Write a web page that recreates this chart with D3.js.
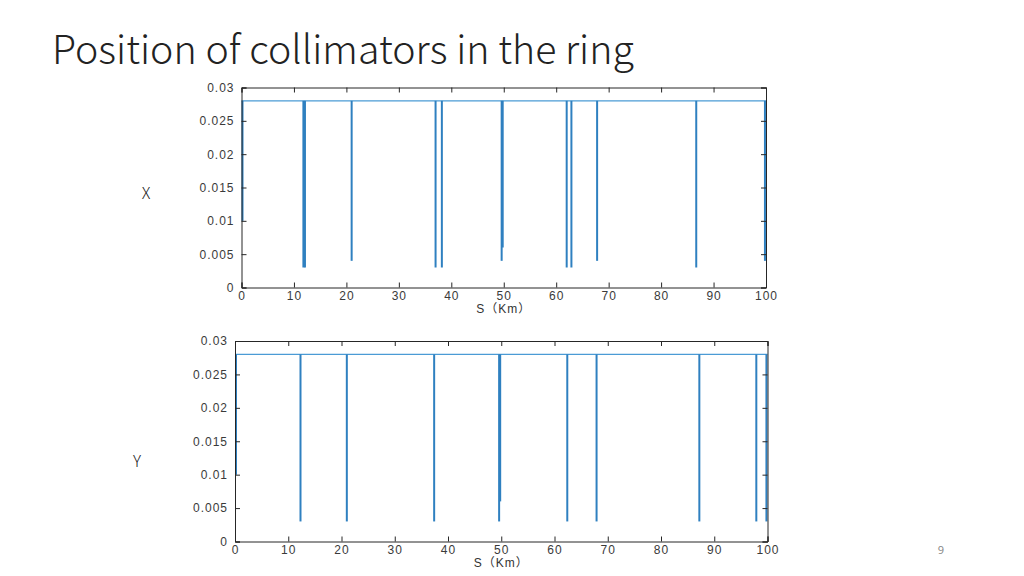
<!DOCTYPE html>
<html>
<head>
<meta charset="utf-8">
<script src="https://cdn.jsdelivr.net/npm/d3@7"></script>
<style>
  body { margin: 0; background: #fff; }
  svg { display: block; }
  .tick text { font-family: "Liberation Sans", Arial, sans-serif; font-size: 12px; letter-spacing: 1px; fill: #3a3a3a; }
</style>
</head>
<body>
<div id="chart"></div>
<script>
// nominal aperture (m) and collimator positions / half gaps
const nominal = 0.028;

const xColS   = [0, 11.8, 12.1, 21.0, 37.0, 38.2, 49.6, 49.8, 62.0, 62.9, 67.8, 86.7, 99.8];
const xColGap = [0.010, 0.003, 0.003, 0.004, 0.003, 0.003, 0.004, 0.006, 0.003, 0.003, 0.004, 0.003, 0.004];

const yColS   = [0, 12.3, 21.0, 37.4, 49.6, 49.8, 62.4, 67.9, 87.2, 97.9, 99.8];
const yColGap = [0.010, 0.003, 0.003, 0.003, 0.003, 0.006, 0.003, 0.003, 0.003, 0.003, 0.003];

const sTicks = [0, 10, 20, 30, 40, 50, 60, 70, 80, 90, 100];
const aTicks = [0, 0.005, 0.01, 0.015, 0.02, 0.025, 0.03];

const W = 1024, H = 576;
const svg = d3.select("#chart").append("svg").attr("width", W).attr("height", H);

// title
const title = svg.append("text")
  .attr("x", 52).attr("y", 64)
  .style("font-family", "'Noto Sans CJK SC', 'Noto Sans', sans-serif")
  .style("font-weight", 300)
  .style("font-size", "40px")
  .style("fill", "#222")
  .text("Position of collimators in the ring");
// fit title width to the slide
const tw = title.node().getComputedTextLength();
title.style("font-size", (40 * 582 / tw) + "px");

// page number
svg.append("text").attr("x", 941).attr("y", 554).attr("text-anchor", "middle")
  .style("font-family", "'Noto Sans', sans-serif").style("font-size", "11px").style("fill", "#8a8a8a")
  .text("9");

function panel(box, sArr, gapArr, label, labelPos) {
  const x = d3.scaleLinear().domain([0, 100]).range([box.left, box.right]);
  const y = d3.scaleLinear().domain([0, 0.03]).range([box.bottom, box.top]);

  const g = svg.append("g");

  // nominal aperture line
  g.append("line")
    .attr("x1", x(0)).attr("x2", x(100))
    .attr("y1", y(nominal)).attr("y2", y(nominal))
    .attr("stroke", "#4b9bd5").attr("stroke-width", 1.4);

  // collimators
  g.selectAll(".col")
    .data(d3.zip(sArr, gapArr))
    .join("line")
    .attr("class", "col")
    .attr("x1", d => x(d[0]) + (d[0] === 0 ? 1 : 0))
    .attr("x2", d => x(d[0]) + (d[0] === 0 ? 1 : 0))
    .attr("y1", y(nominal))
    .attr("y2", d => y(d[1]))
    .attr("stroke", "#2f80c0").attr("stroke-width", 2);

  // axes, MATLAB-like inward ticks all round
  const bottom = g.append("g").attr("transform", `translate(0,${box.bottom})`)
    .call(d3.axisBottom(x).tickValues(sTicks).tickSize(-5).tickPadding(4).tickFormat(d3.format("d")));
  const top = g.append("g").attr("transform", `translate(0,${box.top})`)
    .call(d3.axisTop(x).tickValues(sTicks).tickSize(-5).tickFormat(""));
  const left = g.append("g").attr("transform", `translate(${box.left},0)`)
    .call(d3.axisLeft(y).tickValues(aTicks).tickSize(-5).tickPadding(7).tickFormat(d => d === 0 ? "0" : d3.format("")(+d.toFixed(3))));
  const right = g.append("g").attr("transform", `translate(${box.right},0)`)
    .call(d3.axisRight(y).tickValues(aTicks).tickSize(-5).tickFormat(""));

  [bottom, top, left, right].forEach(a => {
    a.select(".domain").attr("stroke", "#262626").attr("stroke-width", 1);
    a.selectAll(".tick line").attr("stroke", "#262626");
  });

  g.append("text")
    .attr("x", (box.left + box.right) / 2).attr("y", box.bottom + 25)
    .attr("text-anchor", "middle")
    .style("font-family", "'Liberation Sans', 'Noto Sans CJK SC', sans-serif")
    .style("font-size", "12px").style("letter-spacing", "1px").style("fill", "#333")
    .text("S（Km）");

  svg.append("text")
    .attr("x", labelPos[0]).attr("y", labelPos[1])
    .attr("text-anchor", "middle")
    .style("font-family", "'Noto Sans CJK SC', 'Noto Sans', sans-serif")
    .style("font-weight", 300)
    .style("font-size", "16px").style("fill", "#222")
    .text(label);
}

panel({ left: 241.5, right: 766, top: 87.5, bottom: 287.5 }, xColS, xColGap, "X", [146, 199]);
panel({ left: 235, right: 767.5, top: 341, bottom: 541.5 }, yColS, yColGap, "Y", [137, 467]);
</script>
</body>
</html>
